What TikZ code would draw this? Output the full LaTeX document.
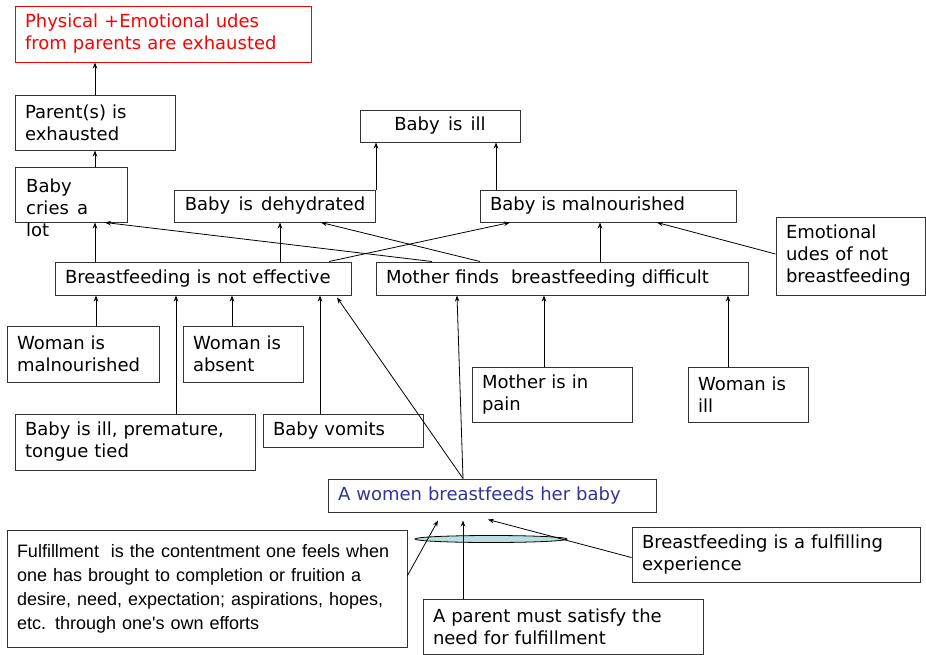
\documentclass[tikz,border=0pt]{standalone}
\usepackage{fontspec}
\setmainfont[WordSpace=1.45]{DejaVu Sans}
\newfontfamily\arialfont{Liberation Sans}
\usetikzlibrary{arrows.meta}
\usetikzlibrary{shapes.geometric}
\definecolor{udered}{RGB}{255,0,0}
\definecolor{womenblue}{RGB}{51,51,153}
\definecolor{discfill}{RGB}{185,222,222}

\begin{document}
\begin{tikzpicture}[x=1pt,y=-1pt,
  cbox/.style={draw=black!80,line width=1pt,inner xsep=10pt,inner ysep=0pt,align=left,font={\fontsize{18}{22}\selectfont}},
  arr/.style={-{Stealth[length=6pt,width=4.5pt]},line width=0.8pt}]
\useasboundingbox (0,0) rectangle (926,654);

% Draw the nodes used for the picture
\node[cbox,text width=276pt,minimum height=56pt,draw=udered,text=udered](red) at (163,34) {Physical +Emotional udes\\from parents are exhausted};
\node[cbox,text width=140pt,minimum height=55pt](parent) at (95,122.5) {Parent(s) is\\exhausted};
\node[cbox,minimum width=112pt,minimum height=55pt](cries) at (71,194.5) {};
\node[align=left,inner sep=0pt,anchor=north west,font={\fontsize{18}{22}\selectfont}](criestext) at (26,179) {Baby\\cries a\\lot};
\node[cbox,minimum width=160pt,minimum height=32pt](ill) at (440,126) {Baby is ill};
\node[cbox,minimum width=200pt,minimum height=32pt](dehyd) at (275,206) {Baby is dehydrated};
\node[cbox,text width=236pt,minimum height=32pt](maln) at (608,206) {Baby is malnourished};
\node[cbox,text width=129pt,minimum height=78pt](emot) at (850.5,256) {Emotional\\udes of not\\breastfeeding};
\node[cbox,text width=276pt,minimum height=33pt](bne) at (203,278.5) {Breastfeeding is not effective};
\node[cbox,text width=352pt,minimum height=33pt](mfbd) at (562,278.5) {Mother finds\ \ breastfeeding difficult};
\node[cbox,text width=132pt,minimum height=56pt](wmal) at (83,354) {Woman is\\malnourished};
\node[cbox,text width=100pt,minimum height=56pt](wabs) at (243,354) {Woman is\\absent};
\node[cbox,text width=140pt,minimum height=55pt](pain) at (552,394.5) {Mother is in\\pain};
\node[cbox,text width=100pt,minimum height=55pt](will) at (748,394.5) {Woman is\\ill};
\node[cbox,text width=220pt,minimum height=56pt](bipt) at (135,442) {Baby is ill, premature,\\tongue tied};
\node[cbox,text width=140pt,minimum height=33pt](vomit) at (343,430.5) {Baby vomits};
\node[cbox,text width=308pt,minimum height=33pt,text=womenblue](women) at (492,495.5) {A women breastfeeds her baby};
\node[cbox,text width=380pt,minimum height=117pt,font={\arialfont\fontsize{18}{24}\selectfont}](fulf) at (207,588.5) {Fulfillment\ \ is the contentment one feels when\\one has brought to completion or fruition a\\desire, need, expectation; aspirations, hopes,\\etc. through one's own efforts};
\node[ellipse,draw,line width=0.8pt,fill=discfill,minimum width=152pt,minimum height=7pt,inner sep=0pt](disc) at (491,539) {};
\node[cbox,text width=268pt,minimum height=55pt](bfe) at (776,554.5) {Breastfeeding is a fulfilling\\experience};
\node[cbox,text width=260pt,minimum height=55pt](pms) at (563,626.5) {A parent must satisfy the\\need for fulfillment};

% Draw the edges between the nodes
\draw[arr] (parent.north) -- (parent.north |- red.south);
\draw[arr] (parent.south |- cries.north) -- (parent.south);
\draw[arr] (parent.south |- bne.north) -- (parent.south |- cries.south);
\draw[arr] ([xshift=-130pt]mfbd.north) -- ([xshift=34pt]cries.south);
\draw[arr] ([xshift=77pt]bne.north) -- ([xshift=5pt]dehyd.south);
\draw[arr] ([xshift=-82pt]mfbd.north) -- ([xshift=46pt]dehyd.south);
\draw[arr] ([xshift=126pt]bne.north) -- ([xshift=-98pt]maln.south);
\draw[arr] ([xshift=38pt]mfbd.north) -- ([xshift=-8pt]maln.south);
\draw[arr] ([yshift=2pt]emot.west) -- ([xshift=49pt]maln.south);
\draw[arr] ([xshift=101pt]dehyd.north) -- ([xshift=-64pt]ill.south);
\draw[arr] ([xshift=-112pt]maln.north) -- ([xshift=56pt]ill.south);
\draw[arr] ([xshift=13pt]wmal.north) -- ([xshift=-107pt]bne.south);
\draw[arr] ([xshift=41pt]bipt.north) -- ([xshift=-27pt]bne.south);
\draw[arr] ([xshift=-11pt]wabs.north) -- ([xshift=29pt]bne.south);
\draw[arr] ([xshift=-23pt]vomit.north) -- ([xshift=117pt]bne.south);
\draw[arr] ([xshift=-29pt]women.north) -- ([xshift=134pt,yshift=-2pt]bne.south);
\draw[arr] ([xshift=-29pt]women.north) -- ([xshift=-105pt]mfbd.south);
\draw[arr] ([xshift=-8pt]pain.north) -- ([xshift=-18pt]mfbd.south);
\draw[arr] ([xshift=-20pt]will.north) -- ([xshift=166pt]mfbd.south);
\draw[arr] ([yshift=13pt]fulf.east) -- ([xshift=-54pt,yshift=-8pt]women.south);
\draw[arr] ([xshift=-100pt]pms.north) -- ([xshift=-29pt,yshift=-8pt]women.south);
\draw[arr] ([yshift=-3pt]bfe.west) -- ([xshift=-4pt,yshift=-7pt]women.south);
\end{tikzpicture}
\end{document}
